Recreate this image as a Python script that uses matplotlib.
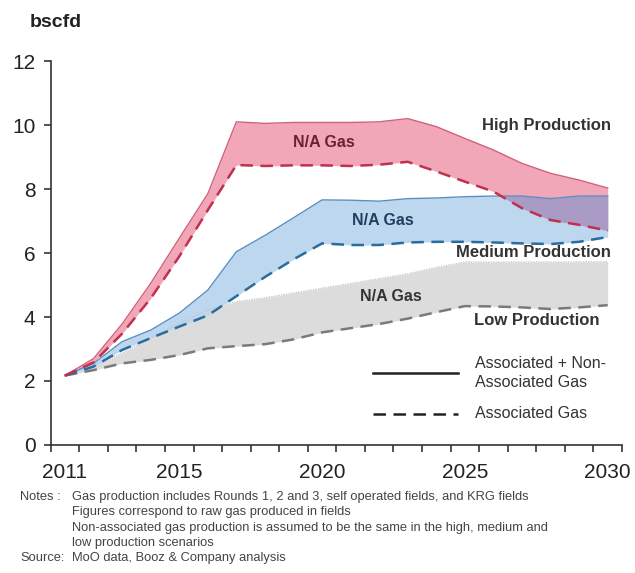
"""Gas production scenarios (bscfd), 2011-2030 — matplotlib recreation."""
import numpy as np
import matplotlib
matplotlib.use("Agg")
import matplotlib.pyplot as plt
from matplotlib.lines import Line2D

plt.rcParams["font.family"] = ["Liberation Sans", "DejaVu Sans"]

years = np.arange(2011, 2031)

# High production scenario
high_total = [2.17, 2.70, 3.78, 5.05, 6.46, 7.85, 10.10, 10.05, 10.08, 10.08,
              10.08, 10.10, 10.20, 9.95, 9.58, 9.22, 8.80, 8.49, 8.28, 8.03]
high_assoc = [2.17, 2.58, 3.48, 4.58, 5.89, 7.34, 8.75, 8.72, 8.74, 8.74,
              8.72, 8.76, 8.85, 8.55, 8.23, 7.92, 7.40, 7.03, 6.88, 6.70]
# Medium production scenario
med_total = [2.17, 2.55, 3.23, 3.59, 4.12, 4.84, 6.04, 6.55, 7.10, 7.66,
             7.65, 7.62, 7.70, 7.72, 7.76, 7.78, 7.78, 7.70, 7.78, 7.78]
med_assoc = [2.17, 2.45, 2.97, 3.34, 3.70, 4.05, 4.65, 5.25, 5.80, 6.30,
             6.25, 6.25, 6.33, 6.35, 6.35, 6.33, 6.30, 6.28, 6.35, 6.50]
# Low production scenario
low_total = [2.17, 2.45, 2.87, 3.34, 3.80, 4.22, 4.48, 4.60, 4.75, 4.90,
             5.05, 5.20, 5.35, 5.55, 5.72, 5.72, 5.72, 5.72, 5.72, 5.73]
low_assoc = [2.17, 2.34, 2.55, 2.66, 2.81, 3.02, 3.09, 3.15, 3.30, 3.52,
             3.65, 3.78, 3.95, 4.15, 4.34, 4.33, 4.30, 4.25, 4.30, 4.37]

year_labels = [2011, 2015, 2020, 2025, 2030]

notes = [
    ("Notes :", "Gas production includes Rounds 1, 2 and 3, self operated fields, and KRG fields"),
    ("", "Figures correspond to raw gas produced in fields"),
    ("", "Non-associated gas production is assumed to be the same in the high, medium and"),
    ("", "low production scenarios"),
    ("Source:", "MoO data, Booz & Company analysis"),
]

fig = plt.figure(figsize=(6.35, 5.73), dpi=100)
ax = fig.add_axes([0.0798, 0.2234, 0.8997, 0.6701])

# fills
ax.fill_between(years, low_assoc, low_total, color="#dcdcdc", lw=0, zorder=1)
ax.fill_between(years, med_assoc, med_total, color="#bcd7ee", lw=0, zorder=2)
ax.fill_between(years, high_assoc, high_total, color="#f2a7b8", lw=0, zorder=3)
ov_lo = np.maximum(high_assoc, med_assoc)
ov_hi = np.minimum(high_total, med_total)
ax.fill_between(years, ov_lo, ov_hi, where=ov_hi > ov_lo, interpolate=True,
                color="#a99ac6", lw=0, zorder=4)

# lines
ax.plot(years, low_total, color="#c4c4c4", lw=0.9, ls=(0, (1, 1)), zorder=5)
ax.plot(years, low_assoc, color="#7a7a7a", lw=1.8, dashes=(5, 3), zorder=5)
ax.plot(years, med_total, color="#5a8fc0", lw=1.0, zorder=6)
ax.plot(years, med_assoc, color="#2a6c9e", lw=1.8, dashes=(5, 3), zorder=6)
ax.plot(years, high_total, color="#d0607e", lw=1.0, zorder=7)
ax.plot(years, high_assoc, color="#c0304f", lw=1.8, dashes=(5, 3), zorder=7)

ax.set_xlim(2010.5, 2030.5)
ax.set_ylim(0, 12)
ax.set_yticks(range(0, 13, 2))
ax.set_xticks(year_labels)
ax.set_xticks(np.arange(2010.5, 2031, 1), minor=True)
ax.tick_params(axis="x", which="major", length=0, pad=13, labelsize=15, labelcolor="#222222")
ax.tick_params(axis="x", which="minor", length=5, width=1.2, color="#333333")
ax.tick_params(axis="y", length=5, width=1.2, color="#333333", pad=6,
               labelsize=15, labelcolor="#222222")
for s in ("top", "right"):
    ax.spines[s].set_visible(False)
for s in ("left", "bottom"):
    ax.spines[s].set_color("#333333")
    ax.spines[s].set_linewidth(1.2)

fig.text(0.047, 0.96, "bscfd", fontsize=14, fontweight="bold", color="#222222",
         ha="left", va="center")

# band labels
ax.text(2020.07, 9.44, "N/A Gas", fontsize=11.5, fontweight="bold", color="#6e1f33",
        ha="center", va="center", zorder=10)
ax.text(2022.12, 7.03, "N/A Gas", fontsize=11.5, fontweight="bold", color="#1f3f5e",
        ha="center", va="center", zorder=10)
ax.text(2022.4, 4.63, "N/A Gas", fontsize=11.5, fontweight="bold", color="#333333",
        ha="center", va="center", zorder=10)
ax.text(2030.1, 10.0, "High Production", fontsize=12, fontweight="bold", color="#333333",
        ha="right", va="center", zorder=10)
ax.text(2030.1, 6.03, "Medium Production", fontsize=12, fontweight="bold", color="#333333",
        ha="right", va="center", zorder=10)
ax.text(2029.7, 3.9, "Low Production", fontsize=12, fontweight="bold", color="#333333",
        ha="right", va="center", zorder=10)

# legend drawn by hand
ax.add_line(Line2D([2021.78, 2024.76], [2.25, 2.25], color="#222222", lw=1.8))
ax.add_line(Line2D([2021.78, 2024.76], [0.97, 0.97], color="#222222", lw=1.8,
                   dashes=(5, 3)))
ax.text(2025.35, 2.25, "Associated + Non-\nAssociated Gas", fontsize=11.5,
        color="#333333", ha="left", va="center", linespacing=1.35)
ax.text(2025.35, 0.97, "Associated Gas", fontsize=11.5, color="#333333",
        ha="left", va="center")

# notes
y0 = 1 - 497 / 573
for i, (head, body) in enumerate(notes):
    y = y0 - i * (15.3 / 573)
    if head:
        fig.text(20 / 635, y, head, fontsize=9.3, color="#444444", va="center")
    fig.text(72 / 635, y, body, fontsize=9.3, color="#444444", va="center")

fig.savefig("out.png", dpi=100)
